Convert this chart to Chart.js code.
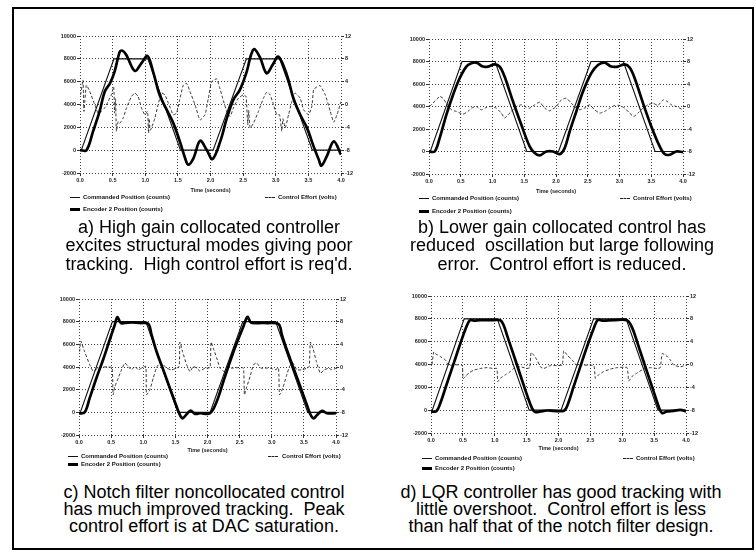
<!DOCTYPE html>
<html><head><meta charset="utf-8">
<script src="https://cdn.jsdelivr.net/npm/chart.js@4.4.0/dist/chart.umd.min.js"></script>
<style>
body{margin:0;background:#fff;width:756px;height:552px;position:relative;overflow:hidden;font-family:"Liberation Sans",Arial,sans-serif;}
#frame{position:absolute;left:12px;top:7px;width:742px;height:543px;border:2px solid #000;box-sizing:border-box;}
canvas{position:absolute;}
.cap{position:absolute;font-size:18px;color:#000;white-space:pre;transform:translate(-50%,-50%);line-height:18px;}
.leg{position:absolute;font:bold 6px "Liberation Sans",Arial,sans-serif;color:#111;white-space:pre;transform:translateY(-50%);line-height:7px;}
.ln{position:absolute;background:#111;}
.dl{position:absolute;border-top:1px dashed #222;height:0;}
</style>
</head><body>
<div id="frame"></div>
<canvas id="ca" width="340" height="165" style="left:40px;top:30px"></canvas>
<canvas id="cb" width="333" height="163" style="left:389px;top:33px"></canvas>
<canvas id="cc" width="336" height="162" style="left:39px;top:293px"></canvas>
<canvas id="cd" width="334" height="163" style="left:391px;top:290px"></canvas>
<div id="txt"></div>
<script>
// Commanded trajectory (shared by all four tests)
const cmdT = [0, 0.02, 0.52, 1.04, 1.54, 2.04, 2.55, 3.06, 3.56, 4.0];
const cmdY = [0, 0, 8000, 8000, 0, 0, 8000, 8000, 0, 0];

// a) high gain collocated
const aEncT = [0,0.10,0.20,0.30,0.38,0.46,0.53,0.61,0.65,0.71, 0.84,0.94,1.035,1.12,1.22,1.33,1.43,1.53,1.61,1.66, 1.74,1.84,1.94,2.03,2.15,2.25,2.35,2.45,2.555,2.62, 2.67,2.76,2.86,2.955,3.04,3.17,3.27,3.375,3.48,3.58, 3.66,3.70,3.785,3.89,4.0];
const aEncY = [0,0,1640,3390,5140,5860,6880,8630,8720,8340, 6940,7610,8250,6880,4840,3530,2370,770,-690,-1270, -690,820,40,-780,770,2800,4410,5280,6880,8340, 8860,8100,6740,7500,8190,6590,4550,3100,1930,330, -840,-1360,-500,770,-400];
const aEffT = [0.01,0.046,0.061,0.097,0.149,0.225,0.277,0.328,0.379,0.43, 0.481,0.517,0.53,0.545,0.558,0.584,0.609,0.661,0.712,0.789, 0.84,0.891,0.942,0.994,1.035,1.05,1.06,1.075,1.096,1.147, 1.198,1.25,1.301,1.352,1.429,1.48,1.521,1.583,1.634,1.685, 1.762,1.839,1.916,1.967,2.018,2.095,2.136,2.187,2.248,2.3, 2.351,2.428,2.504,2.545,2.571,2.585,2.607,2.658,2.735,2.812, 2.863,2.914,2.965,3.016,3.058,3.093,3.11,3.145,3.196,3.247, 3.298,3.375,3.426,3.503,3.554,3.58,3.631,3.682,3.759,3.836, 3.887,3.939,4.0];
const aEffV = [1.7,4.3,-1.2,3.4,2.3,0,-1.5,-1.2,-0.6,0.5, 1.7,3.1,-1.5,1.0,-4.7,-3.0,-3.3,-2.4,-0.6,1.4, 2.0,1.4,-0.6,-1.8,-1.2,-5.0,-2.5,-4.5,-4.1,-2.4, 0,2.0,1.7,0.3,-1.8,-1.5,0.5,3.4,3.7,2.3, 0,-2.7,-1.8,1.1,4.0,4.5,3.1,1.1,-1.2,-2.1, -0.6,1.1,1.7,1.4,-3.6,-1.0,-4.1,-3.3,-1.2,1.1, 2.2,1.7,0,-1.8,-1.8,-4.7,-2.5,-4.1,-1.8,0.5, 2.0,1.1,-0.9,-1.8,-0.3,2.6,3.1,3.3,1.7,-1.2, -3.1,-1.8,0.5];

// b) lower gain collocated
const bEncT = [0,0.09,0.168,0.273,0.378,0.483,0.588,0.667,0.745,0.85, 0.929,1.034,1.113,1.19,1.323,1.454,1.585,1.664,1.743,1.848, 1.953,2.058,2.136,2.215,2.32,2.425,2.556,2.661,2.766,2.871, 2.976,3.081,3.16,3.239,3.37,3.501,3.633,3.711,3.79,3.895, 4.0];
const bEncY = [0,0,1190,3260,5030,6510,7550,7840,7900,7550, 7550,7750,7550,6660,4440,2370,450,-140,-350,0, 0,-230,300,1780,3560,5330,6960,7690,7900,7550, 7550,7750,7460,6510,4300,2230,450,-230,-290,0, -60];
const bEffT = [0.01,0.168,0.22,0.273,0.352,0.43,0.535,0.614,0.667,0.745, 0.824,0.903,0.982,1.06,1.139,1.192,1.244,1.297,1.375,1.454, 1.507,1.585,1.664,1.743,1.822,1.9,2.005,2.084,2.163,2.241, 2.32,2.373,2.451,2.53,2.609,2.688,2.766,2.845,2.924,3.003, 3.081,3.16,3.223,3.291,3.37,3.449,3.528,3.606,3.685,3.738, 3.816,3.895,4.0];
const bEffV = [0,1.78,1.48,0.59,-0.59,-0.88,-1.36,-0.88,-0.29,0, -0.59,-0.17,0,-0.29,-1.18,-2.07,-1.47,-0.88,0,0.3, 0,-0.29,0.3,0.77,-0.29,-0.77,0,1.18,1.48,0.59, -0.29,-0.59,-0.29,0.3,-0.59,-1.18,-0.88,-0.29,0.18,0.18, -0.29,-1.18,-1.77,-1.18,-0.29,0.3,0.59,0.18,1.18,1.0, 0.3,0,-0.59];

// c) notch filter noncollocated
const cEncT = [0,0.088,0.166,0.27,0.375,0.478,0.557,0.598,0.65,0.713, 0.817,0.947,1.077,1.129,1.207,1.311,1.415,1.519,1.571,1.612, 1.675,1.737,1.805,1.883,2.039,2.143,2.247,2.351,2.455,2.559, 2.622,2.674,2.767,2.923,3.105,3.157,3.235,3.339,3.443,3.547, 3.6,3.651,3.704,3.782,3.86,4.0];
const cEncY = [-100,0,1250,3010,4640,6400,7730,8410,7880,7880, 7940,7880,7820,6850,5370,3750,2130,510,-230,-530, -170,160,-140,-80,-80,950,2720,4490,6110,7580, 8410,7940,7880,7880,7790,6850,5520,3900,2280,660, -170,-530,-240,130,-80,-80];
const cEffT = [0.01,0.026,0.088,0.166,0.218,0.296,0.375,0.453,0.515,0.531, 0.557,0.609,0.661,0.713,0.765,0.817,0.869,0.921,0.973,1.04, 1.051,1.103,1.155,1.207,1.259,1.311,1.363,1.441,1.519,1.56, 1.571,1.612,1.675,1.727,1.779,1.831,1.883,1.961,2.039,2.055, 2.091,2.143,2.195,2.257,2.325,2.403,2.481,2.559,2.575,2.611, 2.663,2.715,2.767,2.83,2.897,2.975,3.053,3.105,3.121,3.173, 3.225,3.277,3.329,3.392,3.47,3.547,3.584,3.6,3.641,3.693, 3.756,3.818,3.886,3.938,4.0];
const cEffV = [2.7,4.6,2.7,0.4,-0.7,-0.2,0,0,-0.1,-4.9, -3.5,-2.0,-0.5,0.7,0.1,-0.5,0.1,-0.5,-0.2,0.1, -4.9,-4.0,-2.0,-0.1,0.7,0.4,-0.2,-0.5,-0.2,0.1, 4.4,2.7,0.4,-0.8,0.1,-0.2,-0.7,-0.2,-0.1,4.4, 3.3,1.6,-0.2,-0.8,-0.2,-0.2,-0.1,-0.2,-4.9,-3.5, -1.7,0.4,0.7,-0.2,-0.2,-0.2,-0.5,-0.2,-4.9,-3.7, -1.7,0.1,0.7,-0.5,-0.5,-0.2,0.1,4.4,3.3,1.0, -1.1,-0.5,-0.2,-0.5,-0.2];

// d) LQR
const dEncT = [0,0.084,0.146,0.251,0.356,0.46,0.565,0.617,0.669,0.774, 0.983,1.088,1.14,1.192,1.297,1.401,1.506,1.584,1.637,1.715, 1.82,1.924,2.081,2.133,2.238,2.342,2.447,2.552,2.614,2.682, 2.865,3.075,3.137,3.19,3.284,3.388,3.493,3.571,3.624,3.702, 3.807,3.911,4.0];
const dEncY = [-100,-100,610,2360,4100,5840,7440,7900,7850,7880, 7880,7880,7440,6570,4830,3080,1340,180,-170,-110, -30,-60,-60,320,2070,3810,5550,7150,7900,7850, 7880,7880,7440,6720,5120,3370,1630,320,-260,-110, -60,30,-110];
const dEffT = [0.016,0.042,0.068,0.146,0.225,0.277,0.486,0.502,0.539,0.591, 0.669,0.774,0.878,0.983,1.035,1.046,1.088,1.166,1.244,1.297, 1.401,1.506,1.548,1.569,1.6,1.663,1.715,1.767,1.872,2.055, 2.081,2.133,2.212,2.29,2.552,2.578,2.63,2.708,2.813,2.918, 3.075,3.101,3.153,3.231,3.336,3.44,3.545,3.597,3.624,3.676, 3.754,3.807,3.911,4.0];
const dEffV = [0,2.2,1.9,1.4,0.8,-0.1,-0.1,-2.5,-2.1,-1.5, -1.0,-0.7,-0.55,-0.7,-0.7,-3.0,-2.4,-1.8,-1.25,-0.7, -0.4,-0.7,-0.55,2.1,1.8,0.8,-0.4,-0.7,-0.2,-0.1, 2.4,1.7,0.8,-0.1,-0.2,-2.4,-1.8,-1.25,-0.8,-0.55, -0.55,-2.9,-2.1,-1.5,-0.8,-0.55,-0.7,-0.55,1.9,1.7, 0.8,-0.1,-0.4,-0.1];

const xTicks = ['0.0','0.5','1.0','1.5','2.0','2.5','3.0','3.5','4.0'];
const legendLabels = ['Commanded Position (counts)', 'Encoder 2 Position (counts)', 'Control Effort (volts)'];
const xTitle = 'Time (seconds)';

const pts = (t, v) => t.map((x, i) => ({x: x, y: v[i]}));
const gridC = '#444';
const tf = {family: '"Liberation Sans", Arial, sans-serif', size: 5.5, weight: 'bold'};

function mk(id, encT, encY, effT, effV, xh) {
  new Chart(document.getElementById(id), {
    type: 'line',
    data: {datasets: [
      {data: pts(effT, effV), borderColor: '#222', borderWidth: 0.9, borderDash: [3, 2], pointRadius: 0, tension: 0.15, yAxisID: 'y1', order: 3},
      {data: pts(cmdT, cmdY), borderColor: '#111', borderWidth: 1.1, pointRadius: 0, tension: 0, yAxisID: 'y', order: 2},
      {data: pts(encT, encY), borderColor: '#000', borderWidth: 2.7, pointRadius: 0, tension: 0.35, yAxisID: 'y', order: 1}
    ]},
    options: {
      responsive: false, animation: false, events: [],
      plugins: {legend: {display: false}, tooltip: {enabled: false}},
      layout: {padding: {top: 6, left: 0, right: 0, bottom: 0}},
      scales: {
        x: {type: 'linear', min: 0, max: 4,
            ticks: {stepSize: 0.5, font: tf, color: '#222', padding: 1, maxRotation: 0, autoSkip: false,
                    callback: (v) => xTicks[Math.round(v * 2)]},
            grid: {color: gridC, tickLength: 3, tickColor: '#333'},
            border: {display: false, dash: [1, 2]},
            title: {display: true, text: xTitle, font: tf, color: '#222', padding: {top: 0, bottom: 1}},
            afterFit: (s) => { s.height = xh; }},
        y: {position: 'left', min: -2000, max: 10000,
            ticks: {stepSize: 2000, font: tf, color: '#222', padding: 1, callback: (v) => String(v)},
            grid: {color: gridC, tickLength: 3, tickColor: '#333'},
            border: {display: false, dash: [1, 2]},
            afterFit: (s) => { s.width = 40; }},
        y1: {position: 'right', min: -12, max: 12,
            ticks: {stepSize: 4, font: tf, color: '#222', padding: 1, callback: (v) => String(v)},
            grid: {drawOnChartArea: false, tickLength: 3, color: '#333'},
            border: {display: false},
            afterFit: (s) => { s.width = 39; }}
      }
    }
  });
}
mk('ca', aEncT, aEncY, aEffT, aEffV, 22);
mk('cb', bEncT, bEncY, bEffT, bEffV, 22);
mk('cc', cEncT, cEncY, cEffT, cEffV, 20);
mk('cd', dEncT, dEncY, dEffT, dEffV, 20);

// legends
const legPos = [
  {lx: 70, tx: 83, y1: 197, y2: 209, dx: 265, dtx: 278},
  {lx: 419, tx: 432, y1: 198, y2: 211, dx: 620, dtx: 633},
  {lx: 68, tx: 81, y1: 456, y2: 464, dx: 268, dtx: 282},
  {lx: 422, tx: 435, y1: 458, y2: 468, dx: 623, dtx: 636}
];
const captions = [
  {x: 209, ys: [227, 245, 264], lines: ['a) High gain collocated controller', 'excites structural modes giving poor', "tracking.  High control effort is req'd."]},
  {x: 562, ys: [227, 245, 264], lines: ['b) Lower gain collocated control has', 'reduced  oscillation but large following', 'error.  Control effort is reduced.']},
  {x: 204, ys: [492, 509, 526], lines: ['c) Notch filter noncollocated control', 'has much improved tracking.  Peak', 'control effort is at DAC saturation.']},
  {x: 561, ys: [492, 509, 526], lines: ['d) LQR controller has good tracking with', 'little overshoot.  Control effort is less', 'than half that of the notch filter design.']}
];
const T = document.getElementById('txt');
function add(cls, style, text) {
  const d = document.createElement('div');
  d.className = cls; d.style.cssText = style;
  if (text) d.textContent = text;
  T.appendChild(d);
}
legPos.forEach(p => {
  add('ln', `left:${p.lx}px;top:${p.y1 - 0.5}px;width:10px;height:1px;`);
  add('leg', `left:${p.tx}px;top:${p.y1}px;`, legendLabels[0]);
  add('ln', `left:${p.lx}px;top:${p.y2 - 1.5}px;width:10px;height:3px;background:#000;`);
  add('leg', `left:${p.tx}px;top:${p.y2}px;`, legendLabels[1]);
  add('dl', `left:${p.dx}px;top:${p.y1}px;width:10px;`);
  add('leg', `left:${p.dtx}px;top:${p.y1}px;`, legendLabels[2]);
});
captions.forEach(c => {
  c.lines.forEach((l, i) => add('cap', `left:${c.x}px;top:${c.ys[i]}px;`, l));
});
</script>
</body></html>
